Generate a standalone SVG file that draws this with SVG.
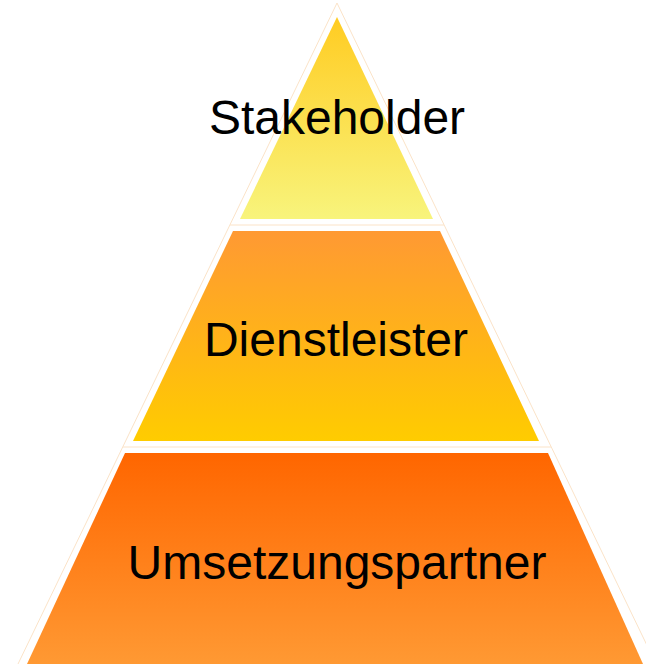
<svg xmlns="http://www.w3.org/2000/svg" width="646" height="664" viewBox="0 0 646 664">
<style>
.lbl{font-family:"Liberation Sans",Arial,sans-serif;font-size:48px;fill:#000;text-anchor:middle}
.faint{fill:none;stroke:#fbe3c8;stroke-width:1}
</style>
<defs>
<linearGradient id="g1" x1="0" y1="0" x2="0" y2="1"><stop offset="0" stop-color="#ffcc22"/><stop offset="1" stop-color="#f8f47c"/></linearGradient>
<linearGradient id="g2" x1="0" y1="0" x2="0" y2="1"><stop offset="0" stop-color="#ff9933"/><stop offset="1" stop-color="#ffcc00"/></linearGradient>
<linearGradient id="g3" x1="0" y1="0" x2="0" y2="1"><stop offset="0" stop-color="#ff6600"/><stop offset="1" stop-color="#ff9933"/></linearGradient>
</defs>
<g id="connectors">
<polyline class="faint" points="18,664 337,3 656,664"/>
<line class="faint" x1="230" y1="225" x2="444" y2="225"/>
<line class="faint" x1="123" y1="447" x2="551" y2="447"/>
</g>
<g id="stakeholder">
<polygon points="337,17 433,219 240,219" fill="url(#g1)"/>
<text class="lbl" x="337" y="134">Stakeholder</text>
</g>
<g id="dienstleister">
<polygon points="233,231 440,231 539,441 133,441" fill="url(#g2)"/>
<text class="lbl" x="336" y="356">Dienstleister</text>
</g>
<g id="umsetzungspartner">
<polygon points="125,453 548,453 643,664 27,664" fill="url(#g3)"/>
<text class="lbl" x="337" y="579">Umsetzungspartner</text>
</g>
</svg>
